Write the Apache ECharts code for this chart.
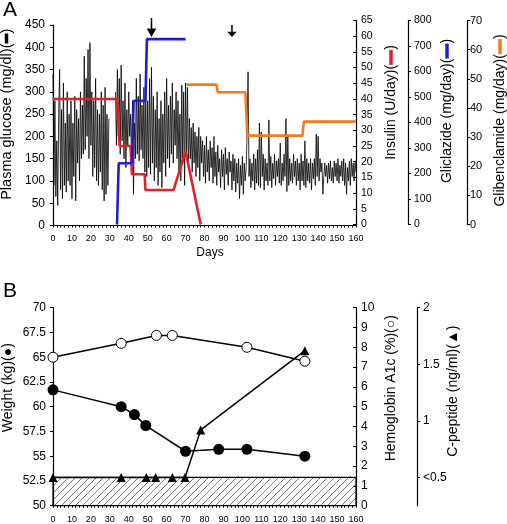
<!DOCTYPE html>
<html><head><meta charset="utf-8">
<script src="https://cdn.jsdelivr.net/npm/echarts@6/dist/echarts.min.js"></script>
<style>html,body{margin:0;padding:0;background:#fff}#c{width:507px;height:524px}</style>
</head><body><div id="c"></div>
<script>
// ---------- Panel A data ----------
const dayMin = 0, dayMax = 160, dayInterval = 10;
const glucoseStepDays = 0.5; // one reading every half day, starting at day 0
const glucoseValues = [
  340,90,280,65,190,45,250,350,80,260,60,320,90,230,75,300,100,250,90,280,
  60,230,110,290,55,260,140,240,100,300,150,270,160,380,170,330,200,395,150,410,
  180,300,110,280,130,330,100,260,90,250,120,300,80,270,55,310,70,250,90,240,
  null,null,null,null,null,null,
  300,180,350,200,330,160,360,190,280,150,320,130,260,180,
  300,200,250,140,280,70,230,150,330,160,290,145,340,170,270,150,310,120,300,110,
  280,130,330,115,355,140,290,100,260,130,300,90,240,120,280,85,250,140,300,110,
  330,150,270,130,290,160,320,140,260,180,300,150,280,120,250,100,315,140,300,90,
  320,150,310,130,240,150,220,120,230,140,210,110,200,130,220,100,200,140,190,110,
  180,95,200,120,170,100,190,130,175,95,200,110,165,90,180,120,150,85,170,110,
  160,80,175,115,150,90,165,120,145,80,160,100,150,75,140,95,150,60,135,90,
  155,70,140,100,130,210,345,110,150,85,140,100,160,80,150,95,170,90,230,85,
  210,110,160,80,150,100,140,90,237,100,155,85,140,105,160,90,145,110,150,95,
  185,90,140,100,160,110,240,76,200,90,150,100,140,95,160,110,145,90,150,100,
  140,80,160,100,145,90,190,85,150,100,140,95,150,80,140,105,150,90,205,110,
  200,100,150,120,140,70,110,140,110,135,95,140,105,145,100,130,95,145,110,140,
  100,150,95,135,110,145,100,150,90,140,70,130,100,145,90,150,110,140,100,145,
  120
];
const insulinDays   = [0, 33.8, 35.2, 40.9, 41.7, 48.4, 48.8, 63.7, 70, 78];
const insulinValues = [40, 40, 25, 25, 16, 16, 11, 11, 23.3, 0];
const gliclazideDays   = [33.8, 34.7, 41.7, 42.6, 48.8, 49.6, 70];
const gliclazideValues = [0, 240, 240, 485, 485, 727, 727];
const glibenclamideDays   = [70.5, 86.3, 87, 101.6, 102.6, 131.7, 132.5, 160];
const glibenclamideValues = [48, 48, 45.4, 45.4, 30.5, 30.5, 35.3, 35.3];
const arrowDays = [52, 94.5];
const arrowTipGlucose = 423;
const arrowLengths = [19, 12];

// ---------- Panel B data ----------
const weightDays   = [0, 36, 43, 49, 70, 87.5, 102.4, 133];
const weightValues = [61.7, 60, 59.2, 58.1, 55.5, 55.7, 55.7, 55];
const hba1cDays    = [0, 36, 54.6, 63, 102.4, 133];
const hba1cValues  = [7.5, 8.2, 8.6, 8.6, 8.0, 7.3];
const cpepDays     = [0, 36, 49.3, 54.2, 63, 69.7, 78, 133];
const cpepValues   = [0.5, 0.5, 0.5, 0.5, 0.5, 0.5, 0.92, 1.62];
const cpepTicks    = [0.5, 1, 1.5, 2];
const cpepLimit    = 0.5;
const cpepAxisMin  = 0.25, cpepAxisMax = 2;

// ---------- build ----------
const FONT = 'Liberation Sans, Arial, sans-serif';
const pair = (xs, ys) => xs.map((x, i) => [x, ys[i]]);
const glucoseData = glucoseValues.map((v, i) => [i * glucoseStepDays, v]);

const pc = document.createElement('canvas'); pc.width = 7; pc.height = 7;
const g = pc.getContext('2d'); g.strokeStyle = '#333'; g.lineWidth = 0.7;
g.beginPath(); g.moveTo(0,7); g.lineTo(7,0); g.moveTo(-1,1); g.lineTo(1,-1); g.moveTo(6,8); g.lineTo(8,6); g.stroke();

const axisLineS = {show: true, onZero: false, lineStyle: {color: '#000', width: 1.2}};
function xAx(grid, show) {
  return {type: 'value', gridIndex: grid, min: dayMin, max: dayMax, interval: dayInterval, show: show,
    axisLine: axisLineS, axisTick: {show: true, length: 2, lineStyle: {color: '#000'}},
    minorTick: {show: true, splitNumber: 5, length: 2, lineStyle: {color: '#000'}},
    axisLabel: {fontSize: 9, margin: 9, color: '#000', fontFamily: FONT, hideOverlap: false},
    splitLine: {show: false}};
}
function nameStyle(pad, barColor, barLen, size) {
  return {padding: [0, 0, 0, pad], rich: {
    t: {fontSize: size || 14, fontFamily: FONT, color: '#000', verticalAlign: 'middle'},
    b: {width: barLen, height: 3.5, backgroundColor: barColor, verticalAlign: 'middle', fontSize: 4}
  }};
}
function yAx(o) {
  return Object.assign({type: 'value', nameLocation: 'middle', nameRotate: 90, nameMoveOverlap: false,
    axisLine: axisLineS, axisTick: {show: true, length: 3, lineStyle: {color: '#000'}},
    splitLine: {show: false}}, o);
}
const lbl = (size, margin) => ({fontSize: size, margin: margin, color: '#000', fontFamily: FONT, hideOverlap: false});
const gridBase = {left: 53, width: 303, containLabel: false, outerBoundsMode: 'none'};

const option = {
  animation: false,
  backgroundColor: '#fff',
  grid: [
    Object.assign({top: 25, height: 200.5}, gridBase),
    Object.assign({top: 20.5, height: 204}, gridBase),
    Object.assign({top: 307.7, height: 198}, gridBase)
  ],
  xAxis: [
    Object.assign(xAx(0, true), {name: 'Days', nameLocation: 'middle', nameGap: 21,
      nameTextStyle: {fontSize: 12, fontFamily: FONT, color: '#000', padding: [0, 0, 0, 11]}}),
    xAx(1, false),
    xAx(2, true)
  ],
  yAxis: [
    yAx({gridIndex: 0, min: 0, max: 450, interval: 50, position: 'left',
      name: '{t|Plasma glucose (mg/dl)(}{b| }{t|)}', nameGap: 39, nameTextStyle: nameStyle(22, '#000', 10, 14.5),
      axisLabel: lbl(12, 8)}),
    yAx({gridIndex: 1, min: 0, max: 65, interval: 5, position: 'right', offset: 0,
      axisTick: {show: true, inside: true, length: 3, lineStyle: {color: '#000'}},
      name: '{t|Insulin (U/day)(}{b| }{t|)}', nameGap: 28, nameTextStyle: nameStyle(40, '#e3202a', 15),
      axisLabel: lbl(10.5, 5)}),
    yAx({gridIndex: 1, min: 0, max: 800, interval: 100, position: 'right', offset: 52,
      name: '{t|Gliclazide (mg/day)(}{b| }{t|)}', nameGap: 32, nameTextStyle: nameStyle(23, '#1f1fd0', 15),
      axisLabel: lbl(10.5, 6)}),
    yAx({gridIndex: 1, min: 0, max: 70, interval: 10, position: 'right', offset: 111,
      name: '{t|Glibenclamide (mg/day)(}{b| }{t|)}', nameGap: 26, nameTextStyle: nameStyle(4, '#f47b20', 15),
      axisLabel: lbl(11, 3)}),
    yAx({gridIndex: 2, min: 50, max: 70, interval: 2.5, position: 'left',
      name: 'Weight (kg)(●)', nameGap: 38, nameTextStyle: {fontSize: 14, fontFamily: FONT, color: '#000', padding: [0,0,0,38]},
      axisLabel: lbl(12, 7)}),
    yAx({gridIndex: 2, min: 0, max: 10, interval: 1, position: 'right', offset: 0,
      axisTick: {show: true, inside: true, length: 3, lineStyle: {color: '#000'}},
      name: 'Hemoglobin A1c (%)(○)', nameGap: 28, nameTextStyle: {fontSize: 14, fontFamily: FONT, color: '#000', padding: [0,0,0,37]},
      axisLabel: lbl(12, 5)}),
    yAx({gridIndex: 2, min: cpepAxisMin, max: cpepAxisMax, position: 'right', offset: 61,
      name: 'C-peptide (ng/ml)(▲)', nameGap: 29, nameTextStyle: {fontSize: 14, fontFamily: FONT, color: '#000', padding: [0,0,0,31]},
      axisTick: {show: true, length: 3, customValues: cpepTicks, lineStyle: {color: '#000'}},
      axisLabel: Object.assign(lbl(12, 6), {customValues: cpepTicks,
        formatter: v => (Math.abs(v - cpepLimit) < 1e-9 ? '<' + cpepLimit : String(v))})})
  ],
  series: [
    {type: 'line', name: 'glucose', xAxisIndex: 0, yAxisIndex: 0, data: glucoseData, showSymbol: false, symbol: 'none',
      connectNulls: false, lineStyle: {color: '#000', width: 0.8}, z: 2,
      markPoint: {silent: true, symbol: 'path://M4.2,0 L5.8,0 L5.8,11 L10,11 L5,20 L0,11 L4.2,11 Z',
        symbolKeepAspect: false, symbolOffset: [0, '-50%'], itemStyle: {color: '#000'}, label: {show: false},
        data: arrowDays.map((d, i) => ({coord: [d, arrowTipGlucose], symbolSize: [9.5, arrowLengths[i]]}))}},
    {type: 'line', name: 'insulin', xAxisIndex: 1, yAxisIndex: 1, data: pair(insulinDays, insulinValues), symbol: 'none',
      lineStyle: {color: '#e3202a', width: 2.6}, z: 3},
    {type: 'line', name: 'gliclazide', xAxisIndex: 1, yAxisIndex: 2, data: pair(gliclazideDays, gliclazideValues), symbol: 'none',
      lineStyle: {color: '#1f1fd0', width: 2.6}, z: 3},
    {type: 'line', name: 'glibenclamide', xAxisIndex: 1, yAxisIndex: 3, data: pair(glibenclamideDays, glibenclamideValues), symbol: 'none',
      lineStyle: {color: '#f47b20', width: 2.6}, z: 3},
    {type: 'line', name: 'cpeptide', xAxisIndex: 2, yAxisIndex: 6, data: pair(cpepDays, cpepValues),
      symbol: 'triangle', symbolSize: 9, itemStyle: {color: '#000'}, lineStyle: {color: '#000', width: 1.5}, z: 4,
      markArea: {silent: true, itemStyle: {color: {image: pc, repeat: 'repeat'}, borderColor: '#000', borderWidth: 1.2},
        data: [[{xAxis: dayMin, yAxis: cpepAxisMin}, {xAxis: dayMax, yAxis: cpepLimit}]]}},
    {type: 'line', name: 'weight', xAxisIndex: 2, yAxisIndex: 4, data: pair(weightDays, weightValues),
      symbol: 'circle', symbolSize: 11, itemStyle: {color: '#000'}, lineStyle: {color: '#000', width: 1.5}, z: 5},
    {type: 'line', name: 'hba1c', xAxisIndex: 2, yAxisIndex: 5, data: pair(hba1cDays, hba1cValues),
      symbol: 'circle', symbolSize: 10, itemStyle: {color: '#fff', borderColor: '#000', borderWidth: 1},
      lineStyle: {color: '#000', width: 1.5}, z: 5}
  ],
  graphic: [
    {type: 'text', left: 3, top: 0, style: {text: 'A', fontSize: 21, fontFamily: FONT, fill: '#000'}},
    {type: 'text', left: 3, top: 281, style: {text: 'B', fontSize: 21, fontFamily: FONT, fill: '#000'}}
  ]
};
const chart = echarts.init(document.getElementById('c'), null, {renderer: 'canvas'});
chart.setOption(option);
</script>
</body></html>
